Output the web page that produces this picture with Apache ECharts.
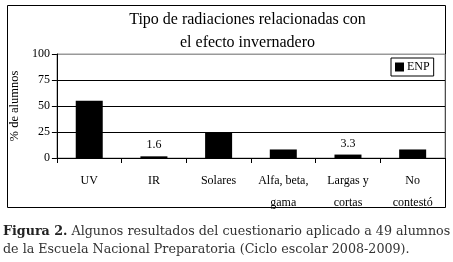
<!DOCTYPE html>
<html><head><meta charset="utf-8">
<script src="https://cdn.jsdelivr.net/npm/echarts@6/dist/echarts.min.js"></script>
<style>html,body{margin:0;padding:0;background:#fff}#c{width:453px;height:262px}</style>
</head><body><div id="c"></div>
<script>
const categories = ['UV', 'IR', 'Solares', 'Alfa, beta,\ngama', 'Largas y\ncortas', 'No\ncontestó'];
const values = [55, 1.6, 24.6, 8.2, 3.3, 8.2];
const labeled = [false, true, false, false, true, false];
const yTicks = [0, 25, 50, 75, 100];
const seriesName = 'ENP';
const titleLines = ['Tipo de radiaciones relacionadas con', 'el efecto invernadero'];
const yName = '% de alumnos';
const captionBold = 'Figura 2.';
const captionLine1 = ' Algunos resultados del cuestionario aplicado a 49 alumnos';
const captionLine2 = 'de la Escuela Nacional Preparatoria (Ciclo escolar 2008-2009).';

const serif = 'Liberation Serif';
const capFont = 'DejaVu Serif';
const capSize = 12.7;
const chart = echarts.init(document.getElementById('c'), null, {renderer: 'canvas'});
chart.setOption({
  animation: false,
  legend: {
    data: [seriesName], left: 391, top: 58, itemWidth: 9, itemHeight: 9, itemGap: 4,
    padding: [3, 4, 3, 4], borderColor: '#000', borderWidth: 1,
    icon: 'rect',
    textStyle: {fontFamily: serif, fontSize: 12, color: '#000', padding: [0, 0, 0, -2]}
  },
  grid: {left: 55, right: 8, top: 54, bottom: 104, show: true, borderColor: '#999', borderWidth: 1},
  xAxis: {
    type: 'category', data: categories,
    axisLine: {lineStyle: {color: '#000', width: 1}},
    axisTick: {show: true, alignWithLabel: false, length: 5, lineStyle: {color: '#000'}},
    axisLabel: {fontFamily: serif, fontSize: 12, color: '#000', margin: 12, lineHeight: 22, interval: 0}
  },
  yAxis: {
    type: 'value', min: 0, max: 100, interval: 25,
    name: yName, nameLocation: 'middle', nameGap: 31, nameRotate: 90,
    nameTextStyle: {fontFamily: serif, fontSize: 12.5, color: '#000'},
    axisLine: {show: true, lineStyle: {color: '#000'}},
    axisTick: {show: true, length: 5, lineStyle: {color: '#000'}},
    axisLabel: {fontFamily: serif, fontSize: 12, color: '#000', margin: 7,
      formatter: v => yTicks.includes(v) ? String(v) : ''},
    splitLine: {show: true, lineStyle: {color: ['#000', '#000', '#000', '#000', '#999'], width: 1}}
  },
  series: [{
    name: seriesName, type: 'bar', barWidth: 27,
    itemStyle: {color: '#000'},
    data: values.map((v, i) => ({
      value: v,
      label: {show: labeled[i], position: 'top', distance: 5,
        fontFamily: serif, fontSize: 12, color: '#000', formatter: '{c}'}
    }))
  }],
  graphic: [
    {type: 'rect', shape: {x: 7.5, y: 5.5, width: 438, height: 202}, style: {fill: null, stroke: '#000', lineWidth: 1}, silent: true, z: -1},
    {type: 'text', x: 247.5, y: 20, style: {text: titleLines[0], fontFamily: serif, fontSize: 16, fill: '#000', align: 'center', verticalAlign: 'middle'}},
    {type: 'text', x: 247.5, y: 43, style: {text: titleLines[1], fontFamily: serif, fontSize: 16, fill: '#000', align: 'center', verticalAlign: 'middle'}},
    {type: 'text', x: 3, y: 232, style: {
      text: '{b|' + captionBold + '}{n|' + captionLine1 + '}', verticalAlign: 'middle',
      rich: {b: {fontFamily: capFont, fontSize: capSize, fontWeight: 'bold', fill: '#222'},
             n: {fontFamily: capFont, fontSize: capSize, fill: '#333'}}
    }},
    {type: 'text', x: 3, y: 250, style: {
      text: captionLine2, fontFamily: capFont, fontSize: capSize, fill: '#333', verticalAlign: 'middle'
    }}
  ]
});
</script></body></html>
